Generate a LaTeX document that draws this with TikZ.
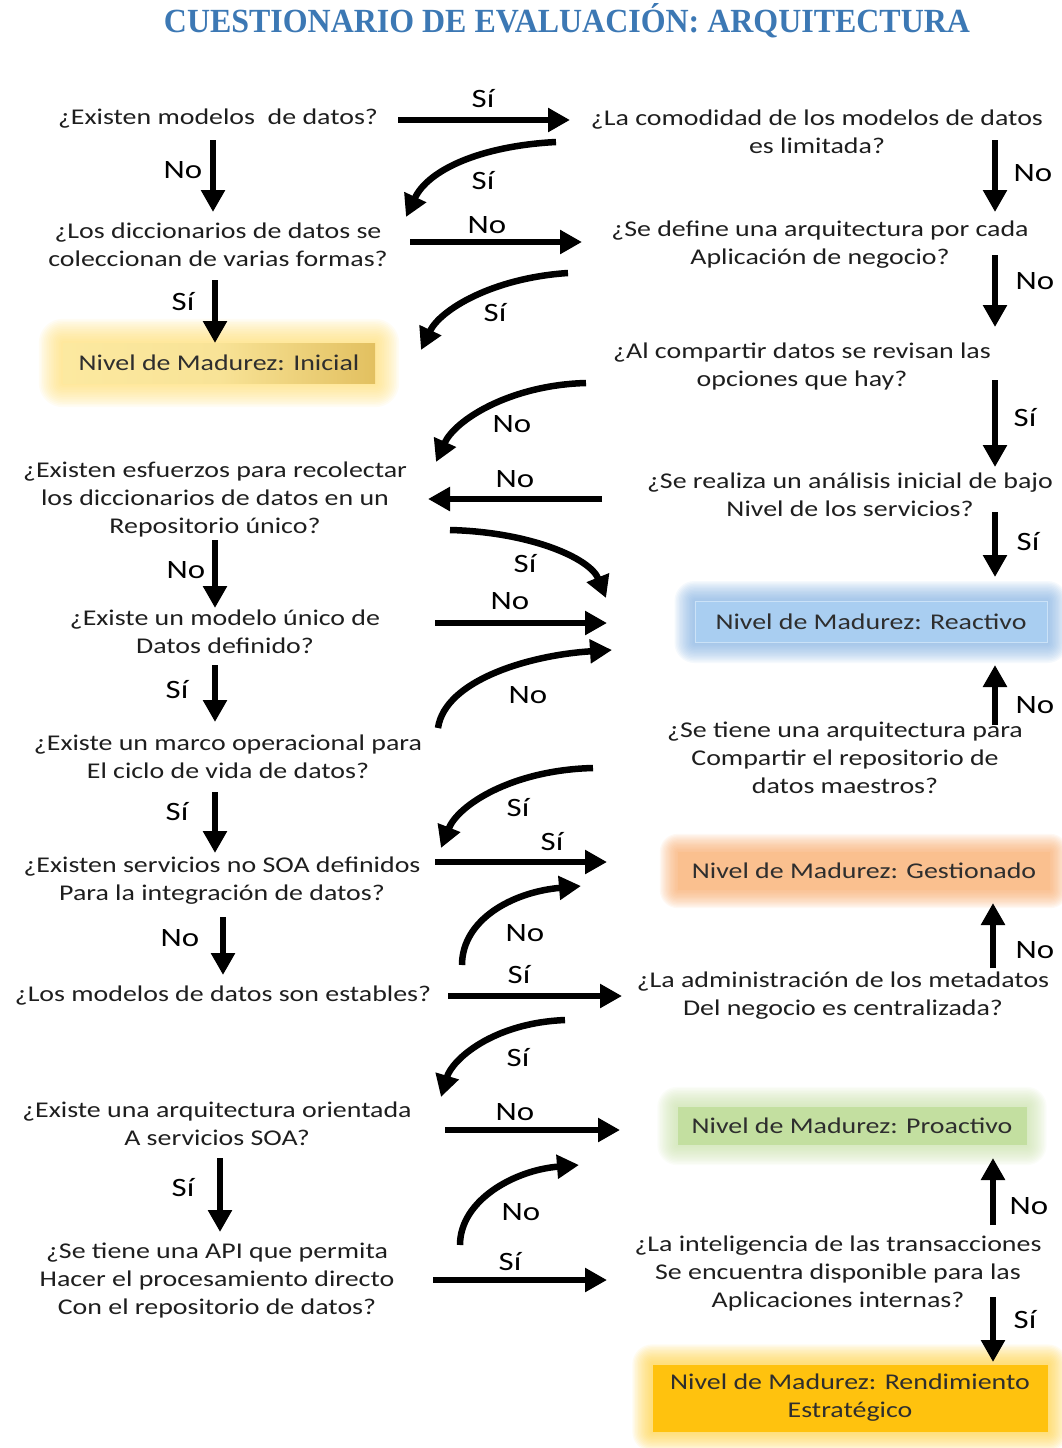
\documentclass[tikz,border=0pt]{standalone}
\usepackage{fontspec}
\setmainfont{Carlito}[FakeStretch=1.24]
\newfontfamily\titlefont{Liberation Serif}
\usetikzlibrary{arrows.meta,backgrounds,calc}

\definecolor{qtext}{HTML}{1E1E1E}
\definecolor{titleblue}{HTML}{3C78B4}
\definecolor{lvltext}{HTML}{2E2E2E}
\definecolor{iniA}{HTML}{FCE9A0}
\definecolor{iniB}{HTML}{E2C060}
\definecolor{iniglow}{HTML}{FFDD70}
\definecolor{reafill}{HTML}{A9CEF1}
\definecolor{reaglow}{HTML}{7FAEE0}
\definecolor{gesfill}{HTML}{FAC08F}
\definecolor{gesglow}{HTML}{F8A868}
\definecolor{profill}{HTML}{C3DFA0}
\definecolor{proglow}{HTML}{C8E0A8}
\definecolor{renfill}{HTML}{FFC20E}
\definecolor{renglow}{HTML}{FFD040}

% soft halo around a level box: #1 node, #2 colour, #3 spread
\newcommand\lvlglow[3]{%
  \foreach \k in {1,...,14}{%
    \pgfmathsetmacro\rr{#3*\k/14}%
    \fill[#2,opacity=0.08,rounded corners=\rr pt]
      ($(#1.south west)+(-\rr pt,-\rr pt)$) rectangle ($(#1.north east)+(\rr pt,\rr pt)$);
  }%
}

\begin{document}
\begin{tikzpicture}[x=1pt,y=-1pt,
  q/.style={align=center,text=qtext,font=\fontsize{22.5}{28}\selectfont,inner sep=0pt},
  lbl/.style={text=black,font=\fontsize{26.5}{30}\selectfont,inner sep=0pt},
  lvl/.style={align=center,text=lvltext,font=\fontsize{22.5}{28}\selectfont,inner sep=0pt},
  arr/.style={line width=6.5pt,-{Triangle[width=23pt,length=22pt]}},
]
\useasboundingbox (0,0) rectangle (1061,1448);

% title
\node (title) at (567,21) {\resizebox{806pt}{29pt}{\titlefont\bfseries\color{titleblue}CUESTIONARIO DE EVALUACIÓN: ARQUITECTURA}};

% questions, left column
\node[q] (L1) at (218,119) {¿Existen modelos\ \ de datos?};
\node[q] (L2) at (218,245) {¿Los diccionarios de datos se\\coleccionan de varias formas?};
\node[q] (L3) at (215,499) {¿Existen esfuerzos para recolectar\\los diccionarios de datos en un\\Repositorio único?};
\node[q] (L4) at (225,632) {¿Existe un modelo único de\\Datos definido?};
\node[q] (L5) at (228,757) {¿Existe un marco operacional para\\El ciclo de vida de datos?};
\node[q] (L6) at (222,881) {¿Existen servicios no SOA definidos\\Para la integración de datos?};
\node[q] (L7) at (223,996) {¿Los modelos de datos son estables?};
\node[q] (L8) at (217,1124) {¿Existe una arquitectura orientada\\A servicios SOA?};
\node[q] (L9) at (217,1281) {¿Se tiene una API que permita\\Hacer el procesamiento directo\\Con el repositorio de datos?};

% questions, right column
\node[q] (R1) at (817,132) {¿La comodidad de los modelos de datos\\es limitada?};
\node[q] (R2) at (820,245) {¿Se define una arquitectura por cada\\Aplicación de negocio?};
\node[q] (R3) at (802,366) {¿Al compartir datos se revisan las\\opciones que hay?};
\node[q] (R4) at (850,495) {¿Se realiza un análisis inicial de bajo\\Nivel de los servicios?};
\node[q] (R5) at (845,758) {¿Se tiene una arquitectura para\\Compartir el repositorio de\\datos maestros?};
\node[q] (R6) at (843,996) {¿La administración de los metadatos\\Del negocio es centralizada?};
\node[q] (R7) at (838,1273) {¿La inteligencia de las transacciones\\Se encuentra disponible para las\\Aplicaciones internas?};

% maturity levels
\node[lvl,minimum width=312pt,minimum height=40pt,left color=iniA,right color=iniB,middle color=iniA!85!iniB] (ini) at (219,363) {Nivel de Madurez: Inicial};
\node[lvl,minimum width=352pt,minimum height=41pt,fill=reafill,draw=reafill!60!white,line width=1pt] (rea) at (871,622) {Nivel de Madurez: Reactivo};
\node[lvl,minimum width=372pt,minimum height=38pt,fill=gesfill] (ges) at (864,871) {Nivel de Madurez: Gestionado};
\node[lvl,minimum width=349pt,minimum height=38pt,fill=profill] (pro) at (852,1126) {Nivel de Madurez: Proactivo};
\node[lvl,minimum width=395pt,minimum height=67pt,fill=renfill] (ren) at (850,1398) {Nivel de Madurez: Rendimiento\\Estratégico};

\begin{scope}[on background layer]
  \lvlglow{ini}{iniglow}{24}
  \lvlglow{rea}{reaglow}{20}
  \lvlglow{ges}{gesglow}{18}
  \lvlglow{pro}{proglow}{20}
  \lvlglow{ren}{renglow}{20}
\end{scope}

% connector end points
\coordinate (a1s) at (398,120);  \coordinate (a1e) at (570,120);
\coordinate (a2s) at (556,142);  \coordinate (a2e) at (406,217);
\coordinate (a3s) at (213,140);  \coordinate (a3e) at (213,212);
\coordinate (a4s) at (410,242);  \coordinate (a4e) at (582,242);
\coordinate (a5s) at (995,140);  \coordinate (a5e) at (995,212);
\coordinate (a6s) at (568,273);  \coordinate (a6e) at (421,350);
\coordinate (a7s) at (215,280);  \coordinate (a7e) at (215,343);
\coordinate (a8s) at (995,255);  \coordinate (a8e) at (995,327);
\coordinate (a9s) at (586,383);  \coordinate (a9e) at (436,462);
\coordinate (a10s) at (995,380); \coordinate (a10e) at (995,467);
\coordinate (a11s) at (602,499); \coordinate (a11e) at (428,499);
\coordinate (a12s) at (995,512); \coordinate (a12e) at (995,577);
\coordinate (a13s) at (450,530); \coordinate (a13e) at (606,598);
\coordinate (a14s) at (215,540); \coordinate (a14e) at (215,608);
\coordinate (a15s) at (435,623); \coordinate (a15e) at (607,623);
\coordinate (a16s) at (438,728); \coordinate (a16e) at (612,650);
\coordinate (a17s) at (215,665); \coordinate (a17e) at (215,722);
\coordinate (a18s) at (995,725); \coordinate (a18e) at (995,665);
\coordinate (a19s) at (593,768); \coordinate (a19e) at (441,848);
\coordinate (a20s) at (215,792); \coordinate (a20e) at (215,853);
\coordinate (a21s) at (435,862); \coordinate (a21e) at (607,862);
\coordinate (a22s) at (462,965); \coordinate (a22e) at (581,886);
\coordinate (a23s) at (223,917); \coordinate (a23e) at (223,975);
\coordinate (a24s) at (993,968); \coordinate (a24e) at (993,903);
\coordinate (a25s) at (448,996); \coordinate (a25e) at (622,996);
\coordinate (a26s) at (565,1020); \coordinate (a26e) at (441,1097);
\coordinate (a27s) at (445,1130); \coordinate (a27e) at (620,1130);
\coordinate (a28s) at (220,1158); \coordinate (a28e) at (220,1232);
\coordinate (a29s) at (460,1245); \coordinate (a29e) at (579,1165);
\coordinate (a30s) at (993,1225); \coordinate (a30e) at (993,1158);
\coordinate (a31s) at (433,1280); \coordinate (a31e) at (607,1280);
\coordinate (a32s) at (993,1297); \coordinate (a32e) at (993,1362);

% straight connectors
\foreach \n in {1,3,4,5,7,8,10,11,12,14,15,17,18,20,21,23,24,25,27,28,30,31,32}
  \draw[arr] (a\n s) -- (a\n e);

% curved connectors
\draw[arr] (a2s) .. controls (480,146) and (428,170) .. (a2e);
\draw[arr] (a6s) .. controls (492,278) and (440,310) .. (a6e);
\draw[arr] (a9s) .. controls (510,385) and (455,420) .. (a9e);
\draw[arr] (a13s) .. controls (530,532) and (590,558) .. (a13e);
\draw[arr] (a16s) .. controls (445,680) and (530,655) .. (a16e);
\draw[arr] (a19s) .. controls (512,770) and (458,805) .. (a19e);
\draw[arr] (a22s) .. controls (462,920) and (512,892) .. (a22e);
\draw[arr] (a26s) .. controls (492,1023) and (452,1060) .. (a26e);
\draw[arr] (a29s) .. controls (460,1200) and (515,1170) .. (a29e);

% connector labels
\node[lbl] at (483,99) {Sí};
\node[lbl] at (483,181) {Sí};
\node[lbl] at (183,170) {No};
\node[lbl] at (487,225) {No};
\node[lbl] at (1033,173) {No};
\node[lbl] at (495,313) {Sí};
\node[lbl] at (183,302) {Sí};
\node[lbl] at (1035,281) {No};
\node[lbl] at (512,424) {No};
\node[lbl] at (1025,418) {Sí};
\node[lbl] at (515,479) {No};
\node[lbl] at (1028,542) {Sí};
\node[lbl] at (525,564) {Sí};
\node[lbl] at (186,570) {No};
\node[lbl] at (510,601) {No};
\node[lbl] at (528,695) {No};
\node[lbl] at (177,690) {Sí};
\node[lbl] at (1035,705) {No};
\node[lbl] at (518,808) {Sí};
\node[lbl] at (177,812) {Sí};
\node[lbl] at (552,842) {Sí};
\node[lbl] at (525,933) {No};
\node[lbl] at (180,938) {No};
\node[lbl] at (1035,950) {No};
\node[lbl] at (519,975) {Sí};
\node[lbl] at (518,1058) {Sí};
\node[lbl] at (515,1112) {No};
\node[lbl] at (183,1188) {Sí};
\node[lbl] at (521,1212) {No};
\node[lbl] at (1029,1206) {No};
\node[lbl] at (510,1262) {Sí};
\node[lbl] at (1025,1320) {Sí};
\end{tikzpicture}
\end{document}
